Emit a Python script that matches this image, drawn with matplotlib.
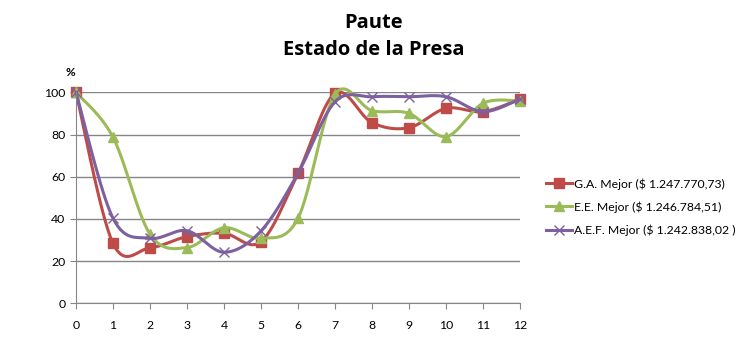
import numpy as np
import matplotlib
matplotlib.use("Agg")
from matplotlib import pyplot as plt

# data
etapas = list(range(13))
ga_mejor = [100, 28.4, 26.3, 31.6, 33.2, 29.2, 61.6, 99.5, 85.6, 83.2, 92.4, 90.8, 96.8]
ee_mejor = [100, 78.7, 32.8, 26.4, 35.8, 30.8, 40.3, 99.0, 91.3, 90.0, 79.0, 94.8, 95.9]
aef_mejor = [100, 40.3, 30.8, 34.4, 24.2, 34.3, 61.6, 95.5, 97.9, 97.9, 97.9, 90.8, 96.8]
etiquetas = ["G.A. Mejor ($ 1.247.770,73)",
             "E.E. Mejor ($ 1.246.784,51)",
             "A.E.F. Mejor ($ 1.242.838,02 )"]


def suavizar(x, y, n=30):
    # excel-like smoothed line (catmull-rom bezier)
    x = np.asarray(x, float)
    y = np.asarray(y, float)
    px = np.concatenate([[x[0]], x, [x[-1]]])
    py = np.concatenate([[y[0]], y, [y[-1]]])
    xs, ys = [], []
    t = np.linspace(0, 1, n)
    for i in range(1, len(px) - 2):
        p0 = np.array([px[i], py[i]])
        p3 = np.array([px[i + 1], py[i + 1]])
        p1 = p0 + (np.array([px[i + 1], py[i + 1]]) - np.array([px[i - 1], py[i - 1]])) / 6
        p2 = p3 - (np.array([px[i + 2], py[i + 2]]) - np.array([px[i], py[i]])) / 6
        b = ((1 - t) ** 3)[:, None] * p0 + (3 * (1 - t) ** 2 * t)[:, None] * p1 \
            + (3 * (1 - t) * t ** 2)[:, None] * p2 + (t ** 3)[:, None] * p3
        xs.extend(b[:, 0])
        ys.extend(b[:, 1])
    return xs, ys


plt.rcParams["font.family"] = ["Lato", "DejaVu Sans"]

fig = plt.figure(figsize=(7.48, 3.43), dpi=100)
ax = fig.add_axes([76 / 748, 1 - 303.3 / 343, 444 / 748, 211 / 343])

series = [(ga_mejor, "#BE4B48", "s", 7, 1),
          (ee_mejor, "#9BBB59", "^", 7.5, 1),
          (aef_mejor, "#7D60A0", "x", 7, 1)]
for (vals, col, mk, ms, mew), lab in zip(series, etiquetas):
    sx, sy = suavizar(etapas, vals)
    ax.plot(sx, sy, color=col, lw=2.2, clip_on=False, solid_capstyle="round")
    ax.plot(etapas, vals, ls="none", marker=mk, ms=ms, color=col, mew=mew,
            clip_on=False)
    ax.plot([], [], color=col, lw=2.2, marker=mk, ms=ms, mew=mew, label=lab)

ax.set_xlim(0, 12)
ax.set_ylim(0, 100)
ax.set_xticks(etapas)
ax.set_yticks(range(0, 101, 20))
ax.yaxis.grid(True, color="#868686", lw=1)
ax.set_axisbelow(True)
for s in ["top", "right"]:
    ax.spines[s].set_visible(False)
for s in ["left", "bottom"]:
    ax.spines[s].set_color("#868686")
ax.tick_params(colors="#868686", labelcolor="black", labelsize=8.8, length=4)
ax.tick_params(axis="x", pad=8)

fig.text(70 / 748, 1 - 72 / 343, "%", fontsize=8.5, fontweight="bold",
         ha="center", va="center")
fig.text(0.5, 1 - 23 / 343, "Paute", fontsize=14.5, fontweight="bold",
         family="Open Sans", ha="center", va="center")
fig.text(0.5, 1 - 50 / 343, "Estado de la Presa", fontsize=14.5,
         fontweight="bold", family="Open Sans", ha="center", va="center")

ax.legend(loc="center left", bbox_to_anchor=(546 / 748, 1 - 207 / 343),
          bbox_transform=fig.transFigure, frameon=False, fontsize=8.8,
          handlelength=2.1, handletextpad=0.2, labelspacing=0.95,
          borderaxespad=0, borderpad=0)

fig.savefig("out.png", dpi=100)
